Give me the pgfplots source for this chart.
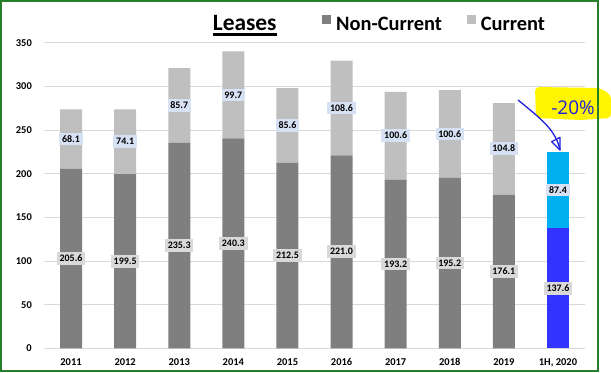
\documentclass[border=0pt]{standalone}
\usepackage{pgfplots}
\usepackage{pgfplotstable}
\pgfplotsset{compat=1.18}
\usepackage{fontspec}
\setmainfont{Carlito}
\newfontfamily\handfont{Open Sans}
\definecolor{ncgray}{HTML}{7F7F7F}
\definecolor{cgray}{HTML}{BFBFBF}
\definecolor{ncblue}{HTML}{3333FF}
\definecolor{cblue}{HTML}{00B0F0}
\definecolor{gridc}{HTML}{D9D9D9}
\definecolor{lblgray}{HTML}{D9D9D9}
\definecolor{lblblue}{HTML}{D6E1F3}
\definecolor{bordergreen}{RGB}{40,125,45}
\definecolor{hl}{RGB}{255,245,0}
\definecolor{pen}{RGB}{30,30,220}
\setlength{\fboxsep}{0pt}

% years 2011-2019
\pgfplotstableread{
idx nc    c
0   205.6 68.1
1   199.5 74.1
2   235.3 85.7
3   240.3 99.7
4   212.5 85.6
5   221.0 108.6
6   193.2 100.6
7   195.2 100.6
8   176.1 104.8
}\yearsdata
% 1H 2020
\pgfplotstableread{
idx nc    c
9   137.6 87.4
}\halfdata

\pgfplotsset{
  base/.style={
    scale only axis, width=541bp, height=305.6bp,
    at={(44bp,24.7bp)}, anchor=south west,
    xmin=-0.5, xmax=9.5, ymin=0, ymax=350,
    ybar stacked, bar width=22bp,
    /pgf/number format/assume math mode=true,
    every node near coord/.append style={anchor=center, inner sep=0pt,
      font=\bfseries\fontsize{10}{11}\selectfont, text=black},
  },
  lbl/.style={
    nodes near coords={\colorbox{#1}{\rule[-3.2bp]{0pt}{12.7bp}\hspace{2.8bp}\pgfmathprintnumber[fixed,fixed zerofill,precision=1]{\pgfplotspointmeta}\hspace{2.8bp}}}},
}

\begin{document}
\begin{tikzpicture}
\useasboundingbox (0bp,0bp) rectangle (611bp,373bp);

\begin{axis}[base,
  ytick={0,50,...,350},
  xtick={0,...,9},
  xticklabels={2011,2012,2013,2014,2015,2016,2017,2018,2019,{1H, 2020}},
  ymajorgrids, grid style={gridc, line width=0.9bp},
  axis line style={draw=none}, major tick style={draw=none},
  yticklabel style={anchor=east, inner sep=0pt, xshift=-12bp, font=\bfseries\fontsize{10.5}{12}\selectfont},
  xticklabel style={anchor=base, inner sep=0pt, yshift=-17bp, font=\bfseries\fontsize{10.5}{12}\selectfont},
  legend columns=2,
  legend style={at={(0.5133,1.063)}, anchor=west, draw=none, fill=none, inner sep=0pt,
    nodes={inner sep=0pt},
    /tikz/every odd column/.append style={column sep=5.3bp},
    /tikz/every even column/.append style={column sep=24.5bp}},
]
\addplot[fill=ncgray, draw=none, lbl=lblgray,
  legend image code/.code={\fill[ncgray] (0bp,1bp) rectangle (9bp,10bp);}]
  table[x=idx, y=nc] {\yearsdata};
\addlegendentry{\bfseries\fontsize{20.5}{24}\selectfont Non-Current}
\addplot[fill=cgray, draw=none, lbl=lblblue,
  legend image code/.code={\fill[cgray] (0bp,1bp) rectangle (9bp,10bp);}]
  table[x=idx, y=c] {\yearsdata};
\addlegendentry{\bfseries\fontsize{20.5}{24}\selectfont Current}
\end{axis}

\begin{axis}[base, hide axis]
\addplot[fill=ncblue, draw=none, lbl=lblgray] table[x=idx, y=nc] {\halfdata};
\addplot[fill=cblue, draw=none, lbl=lblblue] table[x=idx, y=c] {\halfdata};
\end{axis}

% title
\node[anchor=base, inner sep=0pt, font=\bfseries\fontsize{23.5}{27}\selectfont] (t) at (244.7bp,342bp) {Leases};
\draw[line width=2.4bp] ([yshift=-3.5bp]t.base west) -- ([yshift=-3.5bp]t.base east);

% annotation
\fill[hl, rounded corners=4bp] (535bp,286bp) -- (600bp,285bp) -- (611bp,278bp) -- (611bp,255bp) -- (580bp,253bp) -- (536bp,255bp) -- cycle;
\node[text=pen, font=\handfont\fontsize{19}{22}\selectfont, inner sep=0pt] at (573bp,265bp) {-20\%};
\draw[pen, line width=1.3bp] (518bp,273bp) .. controls (540bp,255bp) and (556bp,243bp) .. (560bp,223bp);
\draw[pen, line width=1.2bp, line join=round] (551.7bp,231.3bp) -- (560bp,235.7bp) -- (560bp,223bp) -- cycle;

% border
\draw[bordergreen, line width=1.5bp] (1bp,2bp) rectangle (598bp,372bp);
\end{tikzpicture}
\end{document}
